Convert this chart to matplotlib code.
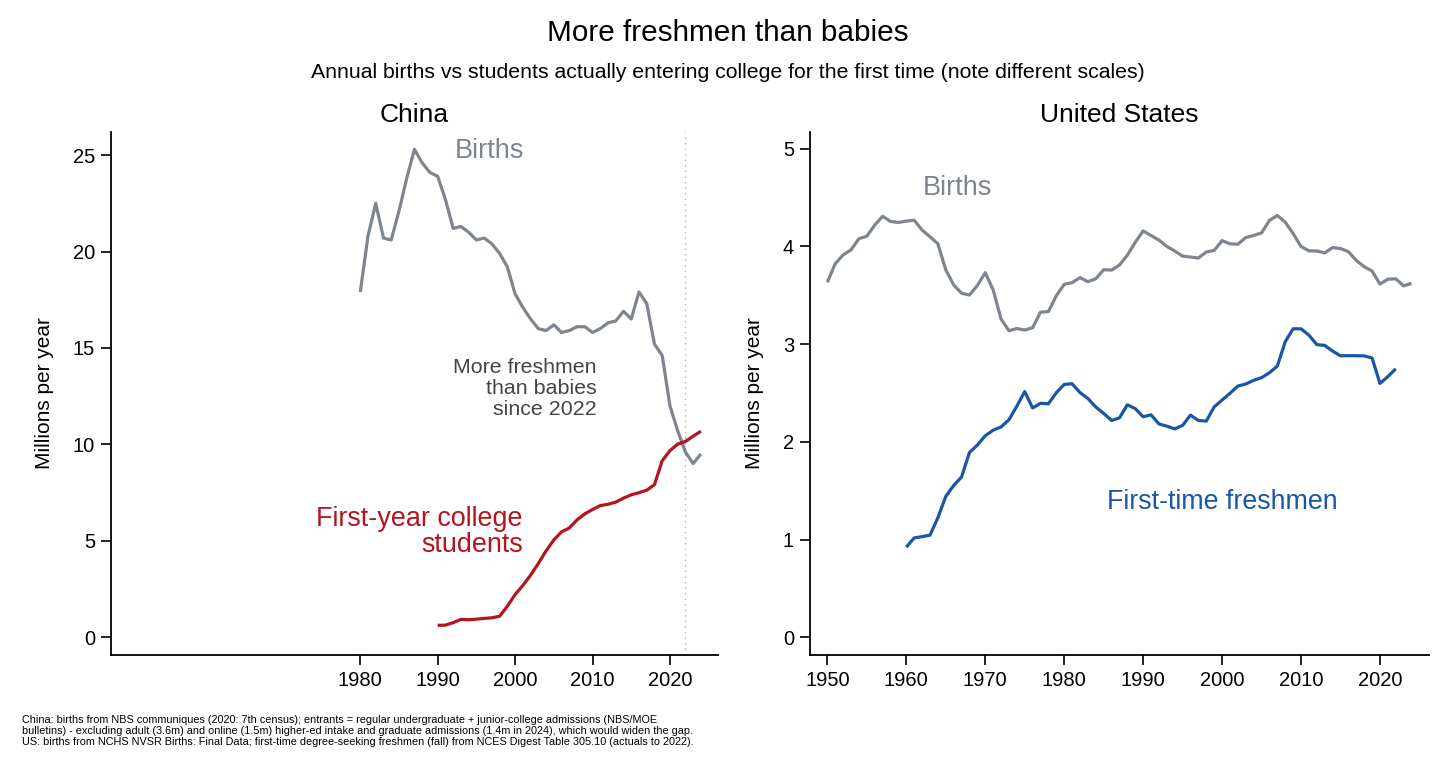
import matplotlib
matplotlib.use("Agg")
from matplotlib import pyplot as plt
import numpy as np

plt.rcParams['font.family'] = ['Liberation Sans', 'DejaVu Sans']

# China, millions
cnYears = list(range(1980, 2025))
cnBirths = [17.9, 20.8, 22.5, 20.7, 20.6, 22.1, 23.8, 25.3, 24.6, 24.1,
            23.9, 22.7, 21.2, 21.3, 21.0, 20.6, 20.7, 20.4, 19.9, 19.2,
            17.8, 17.1, 16.5, 16.0, 15.9, 16.2, 15.8, 15.9, 16.1, 16.1,
            15.8, 16.0, 16.3, 16.4, 16.9, 16.5, 17.9, 17.3, 15.2, 14.6,
            12.0, 10.7, 9.6, 9.0, 9.5]
cnFreshYears = list(range(1990, 2025))
cnFresh = [0.61, 0.62, 0.75, 0.92, 0.90, 0.93, 0.97, 1.00, 1.08, 1.60,
           2.21, 2.68, 3.21, 3.82, 4.47, 5.04, 5.46, 5.66, 6.08, 6.39,
           6.62, 6.82, 6.89, 7.00, 7.21, 7.38, 7.49, 7.62, 7.91, 9.15,
           9.67, 10.01, 10.15, 10.42, 10.68]

# United States, millions
usYears = list(range(1950, 2025))
usBirths = [3.632, 3.823, 3.913, 3.965, 4.078, 4.104, 4.218, 4.308, 4.255, 4.245,
            4.258, 4.268, 4.167, 4.098, 4.027, 3.760, 3.606, 3.521, 3.502, 3.600,
            3.731, 3.556, 3.258, 3.137, 3.160, 3.144, 3.168, 3.327, 3.333, 3.494,
            3.612, 3.629, 3.681, 3.639, 3.669, 3.761, 3.757, 3.809, 3.910, 4.041,
            4.158, 4.111, 4.065, 4.000, 3.953, 3.900, 3.891, 3.881, 3.942, 3.959,
            4.059, 4.026, 4.022, 4.090, 4.112, 4.138, 4.266, 4.316, 4.248, 4.131,
            3.999, 3.954, 3.953, 3.933, 3.988, 3.978, 3.946, 3.856, 3.792, 3.748,
            3.614, 3.664, 3.668, 3.596, 3.622]
usFreshYears = list(range(1960, 2023))
usFresh = [0.923, 1.018, 1.031, 1.046, 1.224, 1.442, 1.554, 1.641, 1.892, 1.967,
           2.063, 2.120, 2.153, 2.226, 2.365, 2.515, 2.347, 2.395, 2.390, 2.503,
           2.588, 2.595, 2.505, 2.444, 2.357, 2.292, 2.219, 2.246, 2.379, 2.341,
           2.257, 2.277, 2.184, 2.161, 2.133, 2.169, 2.274, 2.219, 2.213, 2.358,
           2.428, 2.497, 2.571, 2.592, 2.630, 2.657, 2.707, 2.776, 3.025, 3.157,
           3.157, 3.092, 2.995, 2.987, 2.929, 2.881, 2.882, 2.881, 2.880, 2.858,
           2.598, 2.668, 2.748]

cnTicksX = [1980, 1990, 2000, 2010, 2020]
cnTicksY = [0, 5, 10, 15, 20, 25]
usTicksX = [1950, 1960, 1970, 1980, 1990, 2000, 2010, 2020]
usTicksY = [0, 1, 2, 3, 4, 5]

grey = "#7f858e"
red = "#b5141e"
blue = "#1a56a8"

fig = plt.figure(figsize=(14.56, 7.76), dpi=100)
axCn = fig.add_axes([0.0762, 0.1559, 0.4169, 0.674])
axUs = fig.add_axes([0.5563, 0.1559, 0.4251, 0.674])

for axis in [axCn, axUs]:
    axis.spines['top'].set_visible(False)
    axis.spines['right'].set_visible(False)
    axis.spines['left'].set_linewidth(1.3)
    axis.spines['bottom'].set_linewidth(1.3)
    axis.tick_params(direction='out', length=7.5, width=1.2, labelsize=14.5, pad=4)
    axis.set_xlim(1947.8, 2026.2)
    axis.set_ylabel("Millions per year", fontsize=15, labelpad=13.5)

# China
axCn.axvline(2022, color="#b0b0b0", linestyle=(0, (1, 3)), linewidth=1.0, zorder=1)
axCn.plot(cnYears, cnBirths, color=grey, linewidth=2.3, solid_capstyle='butt')
axCn.plot(cnFreshYears, cnFresh, color=red, linewidth=2.3, solid_capstyle='butt')
axCn.set_ylim(-0.93, 26.2)
axCn.set_xticks(cnTicksX)
axCn.set_yticks(cnTicksY)
axCn.set_title("China", fontsize=19, pad=7)
axCn.text(1996.7, 25.2, "Births", color=grey, fontsize=19.5, ha='center', va='center')
axCn.text(2010.5, 12.9, "More freshmen\nthan babies\nsince 2022", color="#454545",
          fontsize=15.4, ha='right', va='center', multialignment='right', linespacing=1.14)
axCn.text(2001.0, 5.44, "First-year college\nstudents", color=red, fontsize=19.4,
          ha='right', va='center', multialignment='right', linespacing=1.0)

# United States
axUs.plot(usYears, usBirths, color=grey, linewidth=2.3, solid_capstyle='butt')
axUs.plot(usFreshYears, usFresh, color=blue, linewidth=2.3, solid_capstyle='butt')
axUs.set_ylim(-0.18, 5.17)
axUs.set_xticks(usTicksX)
axUs.set_yticks(usTicksY)
axUs.set_title("United States", fontsize=19, pad=7)
axUs.text(1966.5, 4.6, "Births", color=grey, fontsize=19.5, ha='center', va='center')
axUs.text(2000.0, 1.39, "First-time freshmen", color=blue, fontsize=19.3,
          ha='center', va='center')

fig.text(0.5, 0.957, "More freshmen than babies", fontsize=21.4, ha='center', va='center')
fig.text(0.5, 0.906, "Annual births vs students actually entering college for the first time (note different scales)",
         fontsize=15.3, ha='center', va='center')

footnote = ("China: births from NBS communiques (2020: 7th census); entrants = regular undergraduate + junior-college admissions (NBS/MOE\n"
            "bulletins) - excluding adult (3.6m) and online (1.5m) higher-ed intake and graduate admissions (1.4m in 2024), which would widen the gap.\n"
            "US: births from NCHS NVSR Births: Final Data; first-time degree-seeking freshmen (fall) from NCES Digest Table 305.10 (actuals to 2022).")
fig.text(0.0151, 0.058, footnote, fontsize=7.8, ha='left', va='center', linespacing=1.12)

fig.savefig("out.png", dpi=100)
